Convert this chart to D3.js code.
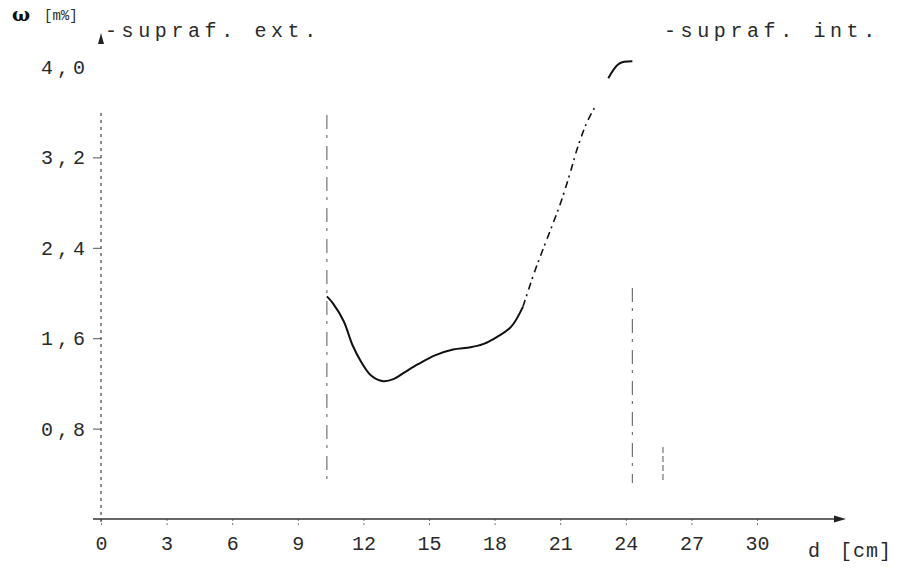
<!DOCTYPE html>
<html>
<head>
<meta charset="utf-8">
<script src="https://cdn.jsdelivr.net/npm/d3@7/dist/d3.min.js"></script>
<style>
  html, body { margin: 0; padding: 0; background: #fff; }
  svg { display: block; }
  .mono { font-family: "Liberation Mono", "DejaVu Sans Mono", monospace; fill: #2a2a2a; }
</style>
</head>
<body>
<svg id="chart" width="919" height="568"></svg>
<script>
// ---- data ----
const xTicks = [0, 3, 6, 9, 12, 15, 18, 21, 24, 27, 30];
const yTicks = [0.8, 1.6, 2.4, 3.2, 4.0];
// moisture profile: d [cm] vs ω [m%]
const dValues =     [10.33, 10.6, 11.1, 11.5, 11.9, 12.35, 12.9, 13.4, 13.9, 14.5, 15.3, 16.1, 16.9, 17.5, 18.1, 18.75, 19.3, 19.85, 20.2, 20.7, 21.06, 21.45, 21.8, 22.2, 22.6, 23.2, 23.7, 24.3];
const omegaValues = [1.97, 1.91, 1.75, 1.54, 1.39, 1.27, 1.22, 1.24, 1.30, 1.37, 1.45, 1.50, 1.52, 1.55, 1.61, 1.70, 1.88, 2.20, 2.38, 2.63, 2.82, 3.06, 3.29, 3.50, 3.65, 3.90, 4.03, 4.05];
const surfaceLabels = ["-supraf. ext.", "-supraf. int."];
const surfacePositions = [10.33, 24.3];

// ---- scales ----
const x = d3.scaleLinear().domain([0, 30]).range([101, 757]);
const y = d3.scaleLinear().domain([0, 4]).range([519, 67]);

const svg = d3.select("#chart");

// ---- x axis ----
const xAxis = d3.axisBottom(x)
  .tickValues(xTicks)
  .tickSize(7)
  .tickFormat(d => String(d));
const gx = svg.append("g").attr("transform", `translate(0,${y(0)})`).call(xAxis);
gx.select(".domain").remove();
gx.selectAll(".tick line").attr("stroke", "#777").attr("stroke-dasharray", "2,2");
gx.selectAll(".tick text")
  .attr("class", "mono")
  .attr("font-size", 20)
  .attr("dy", "1.05em")
  .attr("fill", "#2a2a2a");
// x axis line with arrow
svg.append("line")
  .attr("x1", x(0) - 8).attr("x2", 834)
  .attr("y1", y(0)).attr("y2", y(0))
  .attr("stroke", "#333").attr("stroke-width", 1.6);
svg.append("path")
  .attr("d", `M834,${y(0) - 3.5} L846,${y(0)} L834,${y(0) + 3.5} Z`)
  .attr("fill", "#222");
svg.append("text").attr("class", "mono")
  .attr("x", 808).attr("y", y(0) + 38).attr("font-size", 20)
  .text("d");
svg.append("text").attr("class", "mono")
  .attr("x", 840).attr("y", y(0) + 38).attr("font-size", 20)
  .attr("letter-spacing", 1)
  .text("[cm]");

// ---- y axis ----
const yAxis = d3.axisLeft(y)
  .tickValues(yTicks)
  .tickSize(8)
  .tickFormat(d => d3.format(".1f")(d).replace(".", ","));
const gy = svg.append("g").attr("transform", `translate(${x(0)},0)`).call(yAxis);
gy.select(".domain").remove();
gy.selectAll(".tick line").attr("stroke", "#555");
gy.selectAll(".tick").filter(d => d === 4.0).select("line").remove();
gy.selectAll(".tick text")
  .attr("class", "mono")
  .attr("font-size", 20)
  .attr("letter-spacing", 4)
  .attr("x", -12)
  .attr("fill", "#2a2a2a");
// dotted y axis line
svg.append("line")
  .attr("x1", x(0)).attr("x2", x(0))
  .attr("y1", 113).attr("y2", y(0) + 6)
  .attr("stroke", "#444").attr("stroke-width", 1.2)
  .attr("stroke-dasharray", "3,4");
// small arrow head at top of y axis
svg.append("path")
  .attr("d", `M${x(0) - 3},44 L${x(0)},33 L${x(0) + 3},44 Z`)
  .attr("fill", "#222");

// ---- axis title ----
svg.append("text")
  .attr("x", 12).attr("y", 21)
  .attr("font-family", "DejaVu Serif, serif")
  .attr("font-weight", "bold")
  .attr("font-size", 19)
  .attr("fill", "#111")
  .text("ω");
svg.append("text").attr("class", "mono")
  .attr("x", 44).attr("y", 20).attr("font-size", 14)
  .attr("fill", "#555")
  .text("[m%]");

// ---- surface markers ----
const surfaceTop = [115, 288];
svg.selectAll(".surf")
  .data(surfacePositions)
  .join("line")
  .attr("class", "surf")
  .attr("x1", d => x(d)).attr("x2", d => x(d))
  .attr("y1", (d, i) => surfaceTop[i]).attr("y2", 483)
  .attr("stroke", "#666").attr("stroke-width", 1.1)
  .attr("stroke-dasharray", "14,6,3,8");
svg.append("line")
  .attr("x1", x(25.7)).attr("x2", x(25.7))
  .attr("y1", 447).attr("y2", 482)
  .attr("stroke", "#666").attr("stroke-width", 1.1)
  .attr("stroke-dasharray", "6,3");

svg.selectAll(".surfLabel")
  .data(surfaceLabels)
  .join("text")
  .attr("class", "mono surfLabel")
  .attr("x", (d, i) => i === 0 ? 105 : 664)
  .attr("y", 37)
  .attr("font-size", 20)
  .attr("letter-spacing", 4.6)
  .text(d => d);

// ---- curve ----
const pts = dValues.map((d, i) => ({ d, w: omegaValues[i], i }));
const line = d3.line()
  .x(p => x(p.d))
  .y(p => y(p.w))
  .curve(d3.curveCatmullRom.alpha(0.5));

const segA = pts.slice(0, 17);
const segB = pts.slice(16, 25);
const segC = pts.slice(25);

svg.append("path").datum(segA)
  .attr("d", line).attr("fill", "none")
  .attr("stroke", "#111").attr("stroke-width", 2);
svg.append("path").datum(segB)
  .attr("d", line).attr("fill", "none")
  .attr("stroke", "#111").attr("stroke-width", 1.6)
  .attr("stroke-dasharray", "7,4,2,5");
svg.append("path").datum(segC)
  .attr("d", line).attr("fill", "none")
  .attr("stroke", "#111").attr("stroke-width", 2);
</script>
</body>
</html>
